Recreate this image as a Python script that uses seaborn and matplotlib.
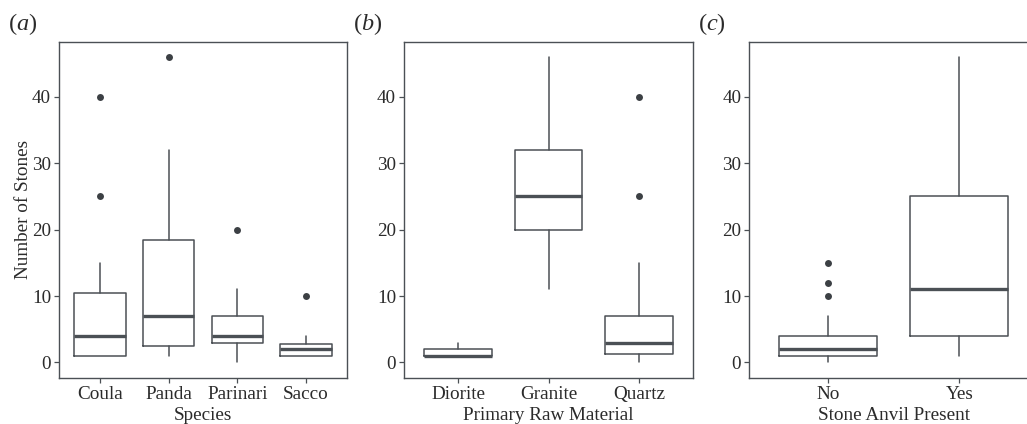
import matplotlib
matplotlib.use("Agg")
import matplotlib.pyplot as plt
import seaborn as sns

# ---------------- data ----------------
species = ["Coula", "Panda", "Parinari", "Sacco"]
species_q1 = [1, 2.5, 3, 1]
species_med = [4, 7, 4, 2]
species_q3 = [10.5, 18.5, 7, 2.75]
species_lo = [1, 1, 0, 1]
species_hi = [15, 32, 11, 4]
species_out_cat = ["Coula", "Coula", "Panda", "Parinari", "Sacco"]
species_out_val = [25, 40, 46, 20, 10]

material = ["Diorite", "Granite", "Quartz"]
material_q1 = [1, 20, 1.25]
material_med = [1, 25, 3]
material_q3 = [2, 32, 7]
material_lo = [1, 11, 0]
material_hi = [3, 46, 15]
material_out_cat = ["Quartz", "Quartz"]
material_out_val = [25, 40]

anvil = ["No", "Yes"]
anvil_q1 = [1, 4]
anvil_med = [2, 11]
anvil_q3 = [4, 25]
anvil_lo = [0, 1]
anvil_hi = [7, 46]
anvil_out_cat = ["No", "No", "No"]
anvil_out_val = [10, 12, 15]

y_ticks = [0, 10, 20, 30, 40]
x_titles = ["Species", "Primary Raw Material", "Stone Anvil Present"]
panel_tags = ["a", "b", "c"]
y_title = "Number of Stones"

# ---------------- style ----------------
sns.set_theme(style="ticks")
plt.rcParams["font.family"] = ["Liberation Serif", "DejaVu Serif"]
plt.rcParams["mathtext.fontset"] = "custom"
plt.rcParams["mathtext.rm"] = "Liberation Serif"
plt.rcParams["mathtext.it"] = "Liberation Serif:italic"

LINE = "#4b5055"
DOT = "#3c4044"
TXT = "#2b2b2b"
FS = 13.8

W, H = 1027, 424
fig = plt.figure(figsize=(W / 100, H / 100), dpi=100)
fig.patch.set_facecolor("white")

top_px, bot_px = 41.7, 377.7
panel_px = [(59, 347), (404, 693), (749.3, 1038)]

panels = [
    (species, species_q1, species_med, species_q3, species_lo, species_hi,
     species_out_cat, species_out_val),
    (material, material_q1, material_med, material_q3, material_lo, material_hi,
     material_out_cat, material_out_val),
    (anvil, anvil_q1, anvil_med, anvil_q3, anvil_lo, anvil_hi,
     anvil_out_cat, anvil_out_val),
]

for i, (cats, q1, med, q3, lo, hi, ocat, oval) in enumerate(panels):
    l, r = panel_px[i]
    ax = fig.add_axes([l / W, (H - bot_px) / H, (r - l) / W, (bot_px - top_px) / H])
    ax.set_facecolor("white")

    # outliers through seaborn
    sns.stripplot(x=ocat, y=oval, order=cats, jitter=False, color=DOT,
                  size=5.0, linewidth=0, ax=ax, zorder=3)

    stats = []
    for k in range(len(cats)):
        stats.append(dict(med=med[k], q1=q1[k], q3=q3[k],
                          whislo=lo[k], whishi=hi[k], fliers=[]))
    ax.bxp(stats, positions=list(range(len(cats))), widths=0.75,
           showfliers=False, showcaps=False, manage_ticks=False,
           boxprops=dict(color=LINE, linewidth=1.1),
           whiskerprops=dict(color=LINE, linewidth=1.1),
           medianprops=dict(color=LINE, linewidth=2.4, solid_capstyle="butt"))

    ax.set_xlim(-0.6, len(cats) - 0.4)
    ax.set_ylim(-2.3, 48.3)
    ax.set_xticks(range(len(cats)))
    ax.set_xticklabels(cats)
    ax.set_yticks(y_ticks)
    ax.set_yticklabels([str(t) for t in y_ticks])
    ax.grid(False)

    for s in ax.spines.values():
        s.set_visible(True)
        s.set_color(LINE)
        s.set_linewidth(1.0)

    ax.tick_params(axis="both", length=3.8, width=0.9, color=LINE,
                   labelsize=FS, labelcolor=TXT, pad=2,
                   bottom=True, left=True, top=False, right=False)
    ax.set_xlabel(x_titles[i], fontsize=FS, color=TXT, labelpad=3)
    if i == 0:
        ax.set_ylabel(y_title, fontsize=FS, color=TXT, labelpad=0)
    else:
        ax.set_ylabel("")

    tag_x = [8, 353, 698][i]
    fig.text(tag_x / W, 1 - 30 / H, "($\\mathit{%s}$)" % panel_tags[i],
             fontsize=17.5, color=TXT, ha="left", va="baseline")

fig.savefig("out.png", dpi=100, facecolor="white")
